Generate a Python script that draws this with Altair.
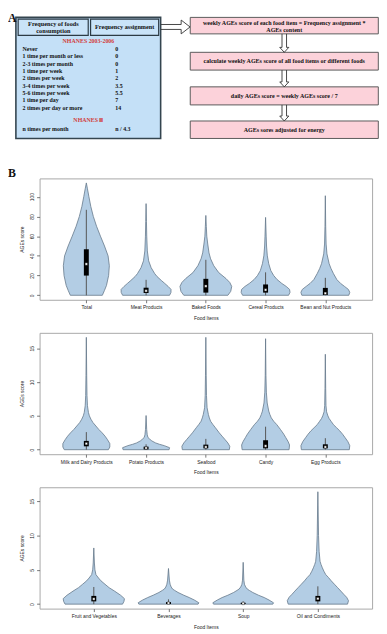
import json
import altair as alt
import pandas as pd

# ---------------- data: panel A (flow diagram) ----------------
header_left = "Frequency of foods\nconsumption"
header_right = "Frequency assignment"
survey_1 = "NHANES 2003-2006"
survey_2 = "NHANES Ⅲ"
freq_labels = ["Never", "1 time per month or less", "2-3 times per month", "1 time per week",
               "2 times per week", "3-4 times per week", "5-6 times per week", "1 time per day",
               "2 times per day or more"]
freq_values = ["0", "0", "0", "1", "2", "3.5", "5.5", "7", "14"]
nhanes3_label = "n times per month"
nhanes3_value = "n / 4.3"
flow_steps = [
    "weekly AGEs score of each food item = Frequency assignment *\nAGEs content",
    "calculate weekly AGEs score of all food items or different foods",
    "daily AGEs score = weekly AGEs score / 7",
    "AGEs sores adjusted for energy",
]

# ---------------- data: panel B (violins) ----------------
panel1_items = ["Total", "Meat Products", "Baked Foods", "Cereal Products", "Bean and Nut Products"]
panel2_items = ["Milk and Dairy Products", "Potato Products", "Seafood", "Candy", "Egg Products"]
panel3_items = ["Fruit and Vegetables", "Beverages", "Soup", "Oil and Condiments"]

# density outlines: score levels and half widths (in category units)
total_y = [0, 5, 10, 20, 30, 40, 50, 60, 70, 80, 90, 100, 108, 114]
total_w = [0.268, 0.304, 0.337, 0.373, 0.385, 0.364, 0.304, 0.236, 0.171, 0.117, 0.075, 0.043, 0.019, 0]
meat_y = [0, 3, 6, 9, 12, 15, 19, 22, 28, 35, 45, 60, 75, 93]
meat_w = [0.393, 0.417, 0.417, 0.369, 0.313, 0.256, 0.184, 0.144, 0.085, 0.043, 0.021, 0.011, 0.006, 0]
baked_y = [0, 4, 9, 13, 17, 23, 30, 37, 43, 52, 60, 70, 81]
baked_w = [0.369, 0.417, 0.433, 0.401, 0.337, 0.216, 0.133, 0.080, 0.053, 0.032, 0.016, 0.008, 0]
cereal_y = [0, 3, 6, 9, 12, 16, 20, 25, 32, 40, 50, 60, 79]
cereal_w = [0.385, 0.409, 0.401, 0.345, 0.272, 0.192, 0.136, 0.088, 0.053, 0.029, 0.016, 0.010, 0]
bean_y = [0, 3, 6, 9, 12, 16, 22, 27, 32, 42, 52, 70, 101]
bean_w = [0.393, 0.409, 0.385, 0.321, 0.256, 0.192, 0.136, 0.096, 0.064, 0.027, 0.013, 0.006, 0]

milk_y = [0, 0.4, 0.9, 1.5, 2.0, 2.5, 3.0, 3.5, 4.0, 4.5, 5.0, 5.5, 6.5, 8, 11, 16.6]
milk_w = [0.369, 0.393, 0.393, 0.353, 0.313, 0.264, 0.208, 0.160, 0.112, 0.077, 0.051, 0.035, 0.019, 0.011, 0.006, 0]
potato_y = [0, 0.3, 0.6, 0.8, 1.0, 1.3, 1.6, 1.8, 2.2, 3, 5.05]
potato_w = [0.385, 0.393, 0.304, 0.224, 0.160, 0.096, 0.056, 0.032, 0.019, 0.010, 0]
seafood_y = [0, 0.5, 1.0, 1.5, 2.0, 2.5, 3.25, 3.7, 4.2, 4.7, 5.2, 6.2, 8, 11, 16.6]
seafood_w = [0.393, 0.401, 0.369, 0.321, 0.272, 0.224, 0.160, 0.120, 0.080, 0.059, 0.043, 0.021, 0.011, 0.006, 0]
candy_y = [0, 0.7, 1.2, 1.8, 2.3, 3.0, 3.7, 4.2, 4.7, 5.2, 5.7, 6.9, 8.5, 11, 16.4]
candy_w = [0.393, 0.401, 0.377, 0.337, 0.304, 0.248, 0.188, 0.136, 0.096, 0.072, 0.053, 0.027, 0.013, 0.006, 0]
egg_y = [0, 0.6, 1.2, 1.8, 2.3, 2.8, 3.25, 3.7, 4.2, 4.6, 5.0, 5.6, 6.5, 9, 14.1]
egg_w = [0.401, 0.409, 0.377, 0.329, 0.288, 0.240, 0.188, 0.136, 0.096, 0.064, 0.043, 0.021, 0.011, 0.006, 0]

fruit_y = [0, 0.4, 0.8, 1.3, 1.9, 2.4, 2.9, 3.4, 3.8, 4.3, 5.0, 6, 8.2]
fruit_w = [0.385, 0.404, 0.410, 0.359, 0.278, 0.205, 0.150, 0.096, 0.064, 0.029, 0.015, 0.008, 0]
bev_y = [0, 0.2, 0.6, 0.96, 1.3, 1.7, 2.0, 2.2, 2.5, 2.9, 3.5, 5.2]
bev_w = [0.397, 0.406, 0.346, 0.278, 0.205, 0.128, 0.083, 0.055, 0.036, 0.022, 0.012, 0]
soup_y = [0, 0.2, 0.6, 0.96, 1.3, 1.7, 2.0, 2.2, 2.5, 2.9, 3.5, 6.1]
soup_w = [0.397, 0.406, 0.346, 0.282, 0.205, 0.128, 0.083, 0.055, 0.033, 0.017, 0.009, 0]
oil_y = [0, 0.5, 1.0, 1.44, 1.9, 2.4, 2.9, 3.4, 3.9, 4.3, 4.8, 5.3, 5.8, 6.25, 7.7, 10, 16.4]
oil_w = [0.397, 0.410, 0.385, 0.346, 0.308, 0.265, 0.222, 0.179, 0.141, 0.106, 0.081, 0.060, 0.042, 0.029, 0.017, 0.009, 0]

# box plot statistics: lower quartile, median, upper quartile, upper whisker
panel1_q1 = [20, 2.3, 2.7, 2.7, 0.3]
panel1_med = [31.7, 4.5, 9.3, 5.5, 2.0]
panel1_q3 = [46.7, 7.7, 16.7, 11, 7.5]
panel1_whi = [86.7, 15.7, 36, 23.3, 17.7]
panel2_q1 = [0.5, 0.05, 0.2, 0.2, 0.2]
panel2_med = [0.9, 0.25, 0.4, 0.55, 0.4]
panel2_q3 = [1.3, 0.45, 0.75, 1.4, 0.8]
panel2_whi = [2.6, 0.8, 1.6, 3.4, 1.7]
panel3_q1 = [0.4, 0.02, 0.02, 0.4]
panel3_med = [0.75, 0.15, 0.1, 0.8]
panel3_q3 = [1.2, 0.3, 0.2, 1.2]
panel3_whi = [2.5, 0.7, 0.4, 2.6]

panel1_ticks = [0, 20, 40, 60, 80, 100]
panel23_ticks = [0, 5, 10, 15]

# ---------------- styling / layout ----------------
SERIF = "Liberation Serif"
SANS = "Liberation Sans"
PW, PH = 337, 123
GAP = 33.5
A_TOP = 8
A_BOTTOM = 175 - GAP
A_LEFT, A_RIGHT = 40, 40 + PW

xs = alt.Scale(domain=[A_LEFT, A_RIGHT], nice=False, zero=False)
ys = alt.Scale(domain=[A_TOP, A_BOTTOM], reverse=True, nice=False, zero=False)


def AX(f):
    return alt.X(f, type="quantitative", scale=xs, axis=None)


def AY(f):
    return alt.Y(f, type="quantitative", scale=ys, axis=None)


def rect_layer(df, fill, stroke, sw):
    return alt.Chart(df).mark_rect(fill=fill, stroke=stroke, strokeWidth=sw).encode(
        x=AX("x"), x2="x2", y=AY("y"), y2="y2")


def text_layer(df, align="left", color="#111", size=6, weight="bold", font=SERIF, lh=7.6):
    return alt.Chart(df).mark_text(align=align, baseline="middle", color=color, fontSize=size,
                                   fontWeight=weight, font=font, lineBreak="\n", lineHeight=lh).encode(
        x=AX("x"), y=AY("y"), text="t:N")


blue = pd.DataFrame([dict(x=16, x2=162.7, y=12.3, y2=135)])
heads = pd.DataFrame([dict(x=18.3, x2=89.3, y=14, y2=30.5), dict(x=91.7, x2=160.7, y=14, y2=30.5)])
pink_tops = [12.3, 47.7, 82.7, 117.3]
pink_bots = [29.0, 65.7, 101.0, 135.0]
pink = pd.DataFrame([dict(x=192.7, x2=383.3, y=t, y2=b) for t, b in zip(pink_tops, pink_bots)])
anchor = pd.DataFrame([dict(x=8, x2=9, y=8, y2=9)])

row_y0, row_dy = 44.3, 7.425
rows_l = pd.DataFrame([dict(x=22.7, y=row_y0 + i * row_dy, t=s) for i, s in enumerate(freq_labels)]
                      + [dict(x=22.7, y=125.7, t=nhanes3_label)])
rows_v = pd.DataFrame([dict(x=116.7, y=row_y0 + i * row_dy, t=s) for i, s in enumerate(freq_values)]
                      + [dict(x=116.7, y=125.7, t=nhanes3_value)])
head_txt = pd.DataFrame([dict(x=54, y=18.6, t=header_left), dict(x=126.2, y=22.4, t=header_right)])
red_txt = pd.DataFrame([dict(x=89.5, y=36.7, t=survey_1), dict(x=89.5, y=116.7, t=survey_2)])
flow_y = [17.8, 56.7, 91.8, 126.2]
flow_txt = pd.DataFrame([dict(x=288, y=fy, t=s) for fy, s in zip(flow_y, flow_steps)])
letters = pd.DataFrame([dict(x=8, y=8, t="A"), dict(x=8, y=165.5, t="B")])

arr = []
pts = [(163, 19.5), (183.5, 19.5), (183.5, 15), (192.5, 22), (183.5, 29), (183.5, 24.5), (163, 24.5)]
for k, (px, py) in enumerate(pts):
    arr.append(dict(id="r", o=k, x=px, y=py))
cx = 288
for j in range(3):
    top, bot = pink_bots[j], pink_tops[j + 1]
    p = [(cx - 2.3, top), (cx - 2.3, bot - 5), (cx - 4.6, bot - 5), (cx, bot),
         (cx + 4.6, bot - 5), (cx + 2.3, bot - 5), (cx + 2.3, top)]
    for k, (px, py) in enumerate(p):
        arr.append(dict(id=f"d{j}", o=k, x=px, y=py))
arr = pd.DataFrame(arr)

arrows = alt.Chart(arr).mark_line(color="#333", strokeWidth=0.9).encode(
    x=AX("x"), y=AY("y"), detail="id:N", order="o:Q")

panelA = alt.layer(
    rect_layer(anchor, "white", "white", 0),
    rect_layer(blue, "#c4e0f7", "#34454f", 1.6),
    rect_layer(heads, "#c9e3f8", "#2c3b45", 1.2),
    rect_layer(pink, "#fcd2da", "#5a5a5a", 1.0),
    arrows,
    text_layer(rows_l),
    text_layer(rows_v),
    text_layer(head_txt, align="center", size=6.3, lh=7.8),
    text_layer(red_txt, align="center", color="#d23c3c", size=6),
    text_layer(flow_txt, align="center", size=6.1, lh=7),
    alt.Chart(letters).mark_text(align="left", baseline="top", fontSize=12, fontWeight="bold",
                                 font=SERIF, color="#111").encode(x=AX("x"), y=AY("y"), text="t:N"),
).properties(width=PW, height=A_BOTTOM - A_TOP)


def violin_panel(items, profiles, q1, med, q3, whi, ticks):
    n = len(items)
    vrows = []
    for i, (name, (yy, ww)) in enumerate(zip(items, profiles)):
        c = i + 1
        for y, w in zip(yy, ww):
            vrows.append(dict(cat=name, y=y, xl=c - w, xr=c + w))
    vdf = pd.DataFrame(vrows)
    bdf = pd.DataFrame(dict(cat=items, c=list(range(1, n + 1)), q1=q1, med=med, q3=q3,
                            lo=[0] * n, hi=whi))
    ymax = max(max(yy) for yy, _ in profiles)
    xscale = alt.Scale(domain=[0.5 - 0.04 * n, n + 0.5 + 0.04 * n], nice=False, zero=False)
    yscale = alt.Scale(domain=[-0.04 * ymax, ymax * 1.04], nice=False, zero=False)
    xaxis = alt.Axis(values=list(range(1, n + 1)), labelExpr=f"{json.dumps(items)}[datum.value - 1]",
                     title="Food Items", grid=False, domain=False, tickSize=3, tickColor="#555",
                     tickWidth=0.8, labelFontSize=5, labelFont=SANS, labelColor="#222", labelPadding=2,
                     labelAngle=0, labelOverlap=False, titleFontSize=5, titleFont=SANS,
                     titleFontWeight="normal", titleColor="#222", titleX=PW / 2, titleY=17.8,
                     titleBaseline="middle", titleAlign="center")
    yaxis = alt.Axis(values=ticks, title="AGEs score", grid=False, domain=False, tickSize=3,
                     tickColor="#555", tickWidth=0.8, labelAngle=270, labelAlign="center",
                     labelBaseline="bottom", labelPadding=2, labelFontSize=5, labelFont=SANS,
                     labelColor="#222", titleFontSize=5, titleFont=SANS, titleFontWeight="normal",
                     titleColor="#222", titleX=-18, titleY=PH / 2, titleAngle=270,
                     titleBaseline="middle", titleAlign="center")

    def X(f):
        return alt.X(f, type="quantitative", scale=xscale, axis=xaxis)

    def Y(f):
        return alt.Y(f, type="quantitative", scale=yscale, axis=yaxis)

    violins = alt.Chart(vdf).mark_area(orient="horizontal", fill="#b3cde4", stroke="#66788a",
                                       strokeWidth=0.8, opacity=1).encode(
        x=X("xl"), x2="xr", y=Y("y"), detail="cat:N")
    whisk = alt.Chart(bdf).mark_rule(color="#555", strokeWidth=1).encode(x=X("c"), y=Y("lo"), y2="hi")
    box = alt.Chart(bdf).mark_bar(size=5, color="black").encode(x=X("c"), y=Y("q1"), y2="q3")
    medp = alt.Chart(bdf).mark_square(size=6, color="white", filled=True, opacity=1,
                                      stroke="black", strokeWidth=0.4).encode(x=X("c"), y=Y("med"))
    return alt.layer(violins, whisk, box, medp).properties(
        width=PW, height=PH, view=alt.ViewBackground(stroke="#a8a8a8", strokeWidth=1))


v1 = violin_panel(panel1_items,
                  [(total_y, total_w), (meat_y, meat_w), (baked_y, baked_w), (cereal_y, cereal_w), (bean_y, bean_w)],
                  panel1_q1, panel1_med, panel1_q3, panel1_whi, panel1_ticks)
v2 = violin_panel(panel2_items,
                  [(milk_y, milk_w), (potato_y, potato_w), (seafood_y, seafood_w), (candy_y, candy_w), (egg_y, egg_w)],
                  panel2_q1, panel2_med, panel2_q3, panel2_whi, panel23_ticks)
v3 = violin_panel(panel3_items,
                  [(fruit_y, fruit_w), (bev_y, bev_w), (soup_y, soup_w), (oil_y, oil_w)],
                  panel3_q1, panel3_med, panel3_q3, panel3_whi, panel23_ticks)

chart = alt.vconcat(panelA, v1, v2, v3, spacing=GAP, bounds="flush").properties(
    padding=0, background="white").configure_view(stroke=None)

chart.save("out.html", embed_options={"renderer": "svg", "actions": False})
